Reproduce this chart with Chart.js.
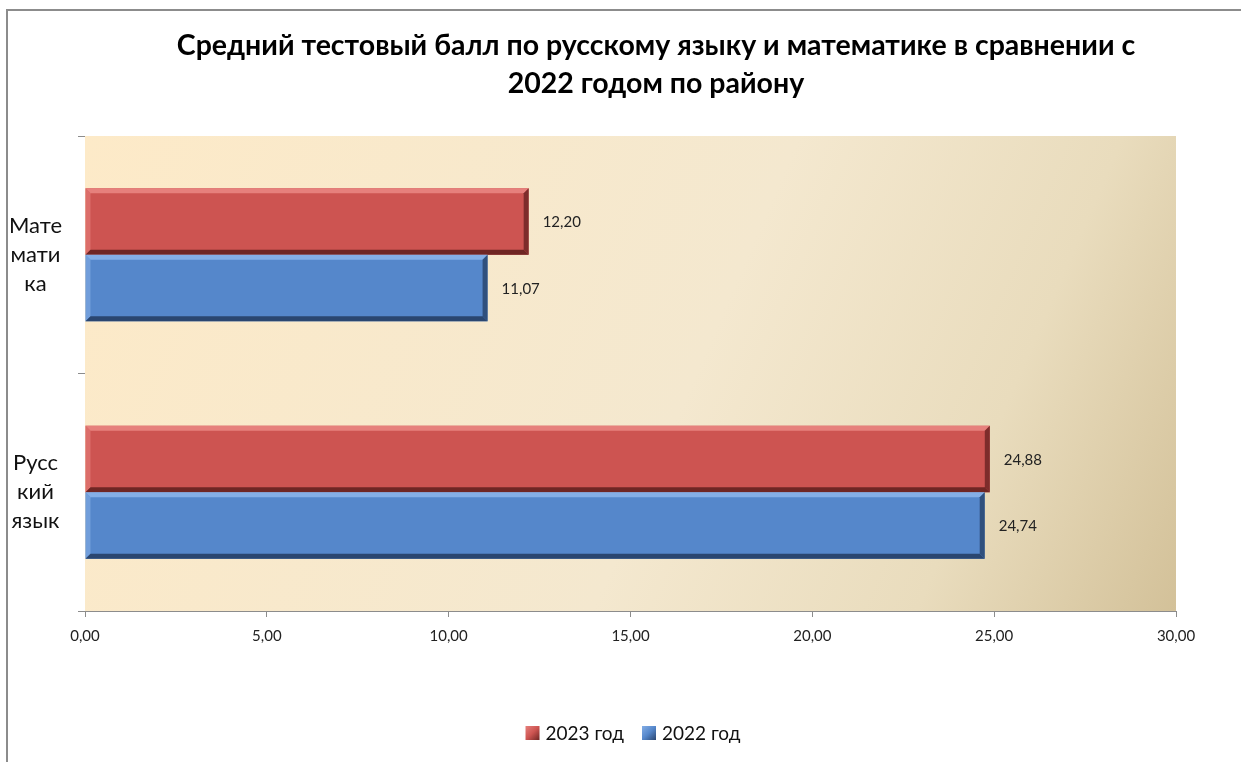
<!DOCTYPE html>
<html>
<head>
<meta charset="utf-8">
<script src="https://cdn.jsdelivr.net/npm/chart.js@4.4.0/dist/chart.umd.min.js"></script>
<style>
  html, body { margin: 0; padding: 0; background: #fff; overflow: hidden; }
  #wrap { position: absolute; left: 0; top: 0; width: 1241px; height: 762px; }
  #frame { position: absolute; left: 6px; top: 9px; width: 1300px; height: 800px;
           border-left: 2px solid #8c8c8c; border-top: 2px solid #8c8c8c; pointer-events: none; }
</style>
</head>
<body>
<div id="wrap"><canvas id="scoreChart"></canvas></div>
<div id="frame"></div>
<script>
const titleLines = ["Средний тестовый балл по русскому языку и математике в сравнении с", "2022 годом по району"]
const subjects = [["Мате", "мати", "ка"], ["Русс", "кий", "язык"]]
const seriesNames = ["2023 год", "2022 год"]
const scores2023 = [12.20, 24.88]
const scores2022 = [11.07, 24.74]
const xTicks = [0, 5, 10, 15, 20, 25, 30]

const FONT = "Lato, 'Open Sans', sans-serif"
const fillColors = ["#cd5451", "#5587cb"]
const lightColors = ["#e6807c", "#84aee6"]
const darkColors = ["#6f2624", "#2a4670"]

function fmt(v) {
  return v.toFixed(2).replace(".", ",")
}

// background of the plot area
const plotBackground = {
  id: "plotBackground",
  beforeDatasetsDraw(chart) {
    const { ctx, chartArea: a } = chart
    const g = ctx.createLinearGradient(a.left, a.top, a.right, a.bottom)
    g.addColorStop(0, "#fdeac8")
    g.addColorStop(0.55, "#f4e8cf")
    g.addColorStop(0.8, "#e9dcbd")
    g.addColorStop(1, "#d3c199")
    ctx.save()
    ctx.fillStyle = g
    ctx.fillRect(a.left, a.top, a.right - a.left, a.bottom - a.top)
    ctx.restore()
  }
}

// bevel edges + value labels
const bevelBars = {
  id: "bevelBars",
  afterDatasetsDraw(chart) {
    const ctx = chart.ctx
    chart.data.datasets.forEach((ds, di) => {
      chart.getDatasetMeta(di).data.forEach((bar, i) => {
        const x0 = bar.base, x1 = bar.x
        const y0 = bar.y - bar.height / 2, y1 = bar.y + bar.height / 2
        const e = 5
        ctx.save()
        // top highlight
        ctx.fillStyle = lightColors[di]
        ctx.beginPath()
        ctx.moveTo(x0, y0); ctx.lineTo(x1, y0); ctx.lineTo(x1 - e, y0 + e); ctx.lineTo(x0 + e, y0 + e)
        ctx.closePath(); ctx.fill()
        // left edge
        ctx.globalAlpha = 0.6
        ctx.beginPath()
        ctx.moveTo(x0, y0); ctx.lineTo(x0 + e, y0 + e); ctx.lineTo(x0 + e, y1 - e); ctx.lineTo(x0, y1)
        ctx.closePath(); ctx.fill()
        ctx.globalAlpha = 1
        // right edge
        ctx.fillStyle = darkColors[di]
        ctx.globalAlpha = 0.85
        ctx.beginPath()
        ctx.moveTo(x1, y0); ctx.lineTo(x1, y1); ctx.lineTo(x1 - e, y1 - e); ctx.lineTo(x1 - e, y0 + e)
        ctx.closePath(); ctx.fill()
        // bottom edge
        ctx.globalAlpha = 1
        ctx.beginPath()
        ctx.moveTo(x0, y1); ctx.lineTo(x1, y1); ctx.lineTo(x1 - e, y1 - e); ctx.lineTo(x0 + e, y1 - e)
        ctx.closePath(); ctx.fill()
        ctx.restore()

        ctx.save()
        ctx.fillStyle = "#222"
        ctx.font = "15px " + FONT
        ctx.textAlign = "left"
        ctx.textBaseline = "middle"
        ctx.fillText(fmt(ds.data[i]), x1 + 14, bar.y + 1)
        ctx.restore()
      })
    })
  }
}

const chartTitle = {
  id: "chartTitle",
  afterDraw(chart) {
    const ctx = chart.ctx
    ctx.save()
    ctx.fillStyle = "#000"
    ctx.font = "bold 28.5px " + FONT
    ctx.textAlign = "center"
    ctx.textBaseline = "middle"
    ctx.fillText(titleLines[0], 656, 46)
    ctx.fillText(titleLines[1], 656, 84)
    ctx.restore()
  }
}

// legend centred under the plot like the original
const bottomLegend = {
  id: "bottomLegend",
  afterDraw(chart) {
    const ctx = chart.ctx
    ctx.save()
    ctx.font = "19px " + FONT
    ctx.textBaseline = "middle"
    const box = 14, gap = 6, between = 18
    const widths = chart.data.datasets.map(ds => box + gap + ctx.measureText(ds.label).width)
    const total = widths.reduce((a, b) => a + b, 0) + between * (widths.length - 1)
    let x = 633 - total / 2
    const y = 733
    chart.data.datasets.forEach((ds, i) => {
      const g = ctx.createLinearGradient(x, y - box / 2, x + box, y + box / 2)
      g.addColorStop(0, lightColors[i])
      g.addColorStop(0.5, fillColors[i])
      g.addColorStop(1, darkColors[i])
      ctx.fillStyle = g
      ctx.fillRect(x, y - box / 2, box, box)
      ctx.fillStyle = "#111"
      ctx.fillText(ds.label, x + box + gap, y + 1)
      x += widths[i] + between
    })
    ctx.restore()
  }
}

const canvas = document.getElementById("scoreChart")
const ctx = canvas.getContext("2d")

const myChart = new Chart(ctx, {
  type: "bar",
  data: {
    labels: subjects,
    datasets: [{
      label: seriesNames[0],
      data: scores2023,
      backgroundColor: fillColors[0],
      borderWidth: 0,
      categoryPercentage: 0.56,
      barPercentage: 1.0
    }, {
      label: seriesNames[1],
      data: scores2022,
      backgroundColor: fillColors[1],
      borderWidth: 0,
      categoryPercentage: 0.56,
      barPercentage: 1.0
    }]
  },
  options: {
    indexAxis: "y",
    responsive: true,
    maintainAspectRatio: false,
    animation: false,
    layout: {
      padding: { top: 136, right: 65, bottom: 48, left: 0 }
    },
    plugins: {
      title: { display: false },
      tooltip: { enabled: false },
      legend: { display: false }
    },
    scales: {
      x: {
        min: 0,
        max: 30,
        afterBuildTicks(scale) {
          scale.ticks = xTicks.map(v => ({ value: v }))
        },
        afterFit(scale) {
          scale.height = 103
        },
        ticks: {
          color: "#222",
          font: { family: FONT, size: 15 },
          padding: 10,
          maxRotation: 0,
          autoSkip: false,
          callback: v => fmt(v)
        },
        grid: {
          drawOnChartArea: false,
          tickLength: 6,
          color: "#8c8c8c"
        },
        border: { color: "#8c8c8c", width: 1 }
      },
      y: {
        afterFit(scale) {
          scale.width = 85
        },
        ticks: {
          color: "#111",
          font: { family: FONT, size: 22, lineHeight: 1.32 },
          crossAlign: "center",
          padding: 16
        },
        grid: {
          drawOnChartArea: false,
          offset: true,
          tickLength: 7,
          color: "#8c8c8c"
        },
        border: { color: "#8c8c8c", width: 1 }
      }
    }
  },
  plugins: [plotBackground, bevelBars, chartTitle, bottomLegend]
})
</script>
</body>
</html>
